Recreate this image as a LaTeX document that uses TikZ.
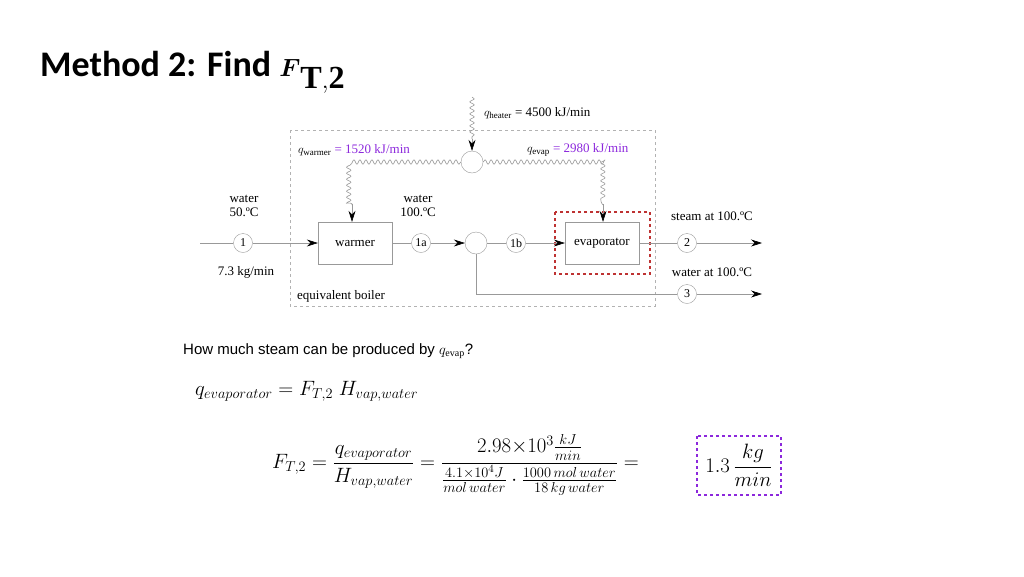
\documentclass[tikz,border=0pt]{standalone}
\usepackage{amsmath}
\usepackage{fontspec}
\setmainfont{Liberation Serif}
\newfontfamily\carl{Carlito}
\newfontfamily\lsans{Liberation Sans}
\usetikzlibrary{decorations.pathmorphing,arrows.meta,calc}
\definecolor{pur}{RGB}{140,40,220}
\definecolor{redd}{RGB}{190,50,50}
\begin{document}
\begin{tikzpicture}[x=1pt,y=-1pt,
  ln/.style={draw=gray!80,line width=0.6pt},
  arr/.style={ln,-{Stealth[length=11pt,width=7pt,black]}},
  wav/.style={ln,decorate,decoration={snake,amplitude=2.2pt,segment length=6pt}},
  num/.style={circle,draw=gray!80,minimum size=19pt,inner sep=0pt,font=\fontsize{12}{12}\selectfont},
  mix/.style={circle,draw=gray!80,minimum size=22pt,inner sep=0pt},
  unit/.style={draw=gray!80,minimum width=74pt,minimum height=42pt,font=\fontsize{13}{13}\selectfont},
  lbl/.style={font=\fontsize{13}{14}\selectfont,align=center,inner sep=0pt}]
\useasboundingbox (0,0) rectangle (1024,576);
\node[anchor=base west,inner sep=0pt] (title) at (40,76) {\fontsize{36}{40}\selectfont\carl\bfseries Method 2: Find {\fontsize{46}{46}\selectfont$\boldsymbol{F}_{\mathbf{T,2}}$}};
\draw[gray!60,dashed,line width=0.6pt] (290,130) rectangle (655,306);
\node[mix] (heat) at (472,162) {};
\coordinate (htop) at (472,97);
\node[unit] (warm) at (355,243) {warmer};
\node[unit] (evap) at (602,243) {evaporator};
\draw[redd,dashed,line width=2pt] (555,212) rectangle (650,274);
\node[num] (n1) at (243,243) {1};
\node[num] (n1a) at (421,243) {1a};
\node[mix] (m) at (476,243) {};
\node[num] (n1b) at (516,243) {1b};
\node[num] (n2) at (687,243) {2};
\node[num] (n3) at (687,294) {3};
\coordinate (in) at (200,243);
\coordinate (o2) at (762,243);
\coordinate (o3) at (762,294);
\coordinate (wl) at (352,162);
\coordinate (er) at (603,162);
\draw[wav] (htop) -- ($(heat.north)+(0,-12)$);
\draw[arr] ($(heat.north)+(0,-12)$) -- (heat.north);
\draw[wav] (heat.west) -- (wl) -- (352,205);
\draw[arr] (352,204) -- (warm.north -| wl);
\draw[wav] (heat.east) -- (er) -- (603,205);
\draw[arr] (603,204) -- (evap.north -| er);
\draw[ln] (in) -- (n1);
\draw[arr] (n1) -- (warm);
\draw[ln] (warm) -- (n1a);
\draw[arr] (n1a) -- (m);
\draw[ln] (m) -- (n1b);
\draw[arr] (n1b) -- (evap);
\draw[ln] (evap) -- (n2);
\draw[arr] (n2) -- (o2);
\draw[ln] (m.south) |- (n3);
\draw[arr] (n3) -- (o3);
\node[lbl,anchor=west] (qh) at (484,113) {$q_{\text{\fontsize{9}{9}\selectfont heater}}$ = 4500 kJ/min};
\node[lbl,anchor=west] (qw) at (298,150) {$q_{\text{\fontsize{9}{9}\selectfont warmer}}$ \textcolor{pur}{= 1520 kJ/min}};
\node[lbl,anchor=west] (qe) at (527,150) {$q_{\text{\fontsize{9}{9}\selectfont evap}}$ \textcolor{pur}{= 2980 kJ/min}};
\node[lbl] (t1) at (244,206) {water\\50.ºC};
\node[lbl] (t1a) at (418,206) {water\\100.ºC};
\node[lbl] (t7) at (246,272) {7.3 kg/min};
\node[lbl] (ts) at (712,216) {steam at 100.ºC};
\node[lbl] (tw) at (712,272) {water at 100.ºC};
\node[lbl,anchor=west] (tb) at (297,296) {equivalent boiler};
\node[anchor=west,inner sep=0pt] (q) at (183,351) {\fontsize{15}{16}\selectfont\lsans How much steam can be produced by $q_{\text{\fontsize{10}{10}\selectfont\rmfamily evap}}$?};
\node[anchor=west,inner sep=0pt] (e1) at (195,391) {\fontsize{21}{24}\selectfont $q_{evaporator} = F_{T,2}\;H_{vap,water}$};
\node[anchor=west,inner sep=0pt] (e2) at (272,465) {\fontsize{22.5}{26}\selectfont $F_{T,2} = \dfrac{q_{evaporator}}{H_{vap,water}} = \dfrac{2.98{\times}10^3\frac{kJ}{min}}{\frac{4.1\times10^4 J}{mol\,water}\cdot\frac{1000\,mol\,water}{18\,kg\,water}} =$};
\node[inner sep=0pt] (res) at (739,465) {\fontsize{22}{26}\selectfont $1.3\,\dfrac{kg}{min}$};
\draw[pur,dashed,line width=2pt] (697,436) rectangle (781,495);
\end{tikzpicture}
\end{document}
